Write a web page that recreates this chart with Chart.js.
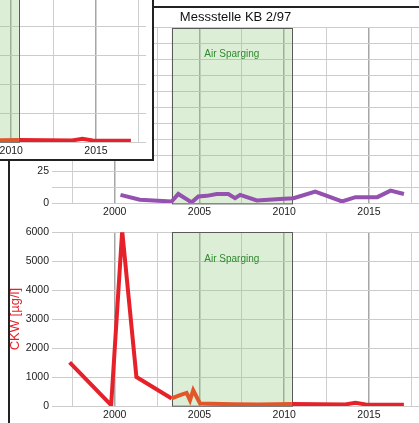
<!DOCTYPE html>
<html lang="de">
<head>
<meta charset="UTF-8">
<title>Messstelle KB 2/97</title>
<script src="https://cdn.jsdelivr.net/npm/chart.js"></script>
<style>
  body { margin: 0; width: 419px; height: 423px; overflow: hidden; background: #fff; position: relative; }
  .frame { position: absolute; left: 8px; top: 6px; width: 420px; height: 430px; border-left: 2px solid #222; border-top: 2px solid #222; }
  #kbChart { position: absolute; left: 0; top: 8px; }
  #ckwChart { position: absolute; left: 0; top: 223px; }
  .inset { position: absolute; left: 0; top: 0; width: 152px; height: 159px; background: #fff; border-right: 2px solid #222; border-bottom: 2px solid #222; overflow: hidden; }
  #insetChart { position: absolute; left: -273px; top: -41px; }
</style>
</head>
<body>
<div class="frame"></div>
<canvas id="kbChart" width="419" height="215"></canvas>
<canvas id="ckwChart" width="419" height="200"></canvas>
<div class="inset"><canvas id="insetChart" width="419" height="200"></canvas></div>

<script>
// x axis (years)
const xMin = 1996.3;
const xMax = 2017.95;
const xGridYears = [1997.5, 2000, 2002.5, 2005, 2007.5, 2010, 2012.5, 2015, 2017.5];

// Air Sparging period
const sparStart = 2003.36;
const sparEnd = 2010.45;
const sparLabel = 'Air Sparging';

// Messstelle KB 2/97 (purple)
const kbYears = [2000.34, 2001.48, 2003.36, 2003.75, 2004.54, 2004.93, 2005.43, 2006.02, 2006.70, 2007.10,
                 2007.40, 2008.38, 2009.76, 2010.55, 2011.83, 2013.41, 2014.20, 2015.49, 2016.27, 2017.06];
const kbValues = [6.4, 2.5, 1.2, 7.1, 0.5, 5.1, 5.6, 7.1, 7.1, 3.8,
                  6.4, 2.0, 3.1, 3.8, 8.9, 1.2, 4.6, 4.6, 9.7, 7.1];

// CKW [µg/l] (red / orange during air sparging)
const ckwYears = [1997.34, 1999.79, 2000.44, 2001.28, 2003.36, 2003.85, 2004.24, 2004.44, 2004.63, 2005.03,
                  2005.62, 2007.0, 2008.5, 2010.45, 2012.0, 2013.6, 2014.2, 2014.8, 2016.0, 2017.06];
const ckwValues = [1510, 30, 6050, 1000, 260, 375, 450, 200, 545, 90,
                   80, 60, 55, 70, 60, 55, 110, 55, 45, 40];

const red = '#e62129';
const orange = '#e2572a';
const purple = '#9451b0';
const tickFont = { family: 'Arial', size: 10.5 };

const spargingBox = {
  id: 'spargingBox',
  beforeDatasetsDraw(chart) {
    const { ctx, chartArea, scales: { x } } = chart;
    const left = x.getPixelForValue(sparStart);
    const right = x.getPixelForValue(sparEnd);
    ctx.save();
    ctx.fillStyle = 'rgba(140, 200, 120, 0.3)';
    ctx.fillRect(left, chartArea.top, right - left, chartArea.bottom - chartArea.top);
    ctx.strokeStyle = '#5a5a5a';
    ctx.lineWidth = 1;
    ctx.strokeRect(Math.round(left) + 0.5, Math.round(chartArea.top) + 0.5, Math.round(right - left), chartArea.bottom - chartArea.top);
    ctx.fillStyle = '#2f8a2f';
    ctx.font = '10px Arial';
    ctx.textAlign = 'center';
    ctx.textBaseline = 'middle';
    ctx.fillText(sparLabel, (left + right) / 2, chartArea.top + 27);
    ctx.restore();
  }
};

function xAxis(height) {
  return {
    type: 'linear',
    min: xMin,
    max: xMax,
    afterBuildTicks: axis => { axis.ticks = xGridYears.map(v => ({ value: v })); },
    afterFit: axis => { axis.height = height; },
    border: { display: false },
    grid: {
      drawTicks: false,
      color: c => c.tick && c.tick.value % 5 === 0 ? '#a6a6a6' : '#cfcfcf',
      lineWidth: c => c.tick && c.tick.value % 5 === 0 ? 1.5 : 1
    },
    ticks: {
      autoSkip: false, maxRotation: 0, padding: 3, color: '#222', font: tickFont,
      callback: v => v % 5 === 0 ? String(v) : ''
    }
  };
}

function yAxis(max, step, labelStep, title) {
  return {
    min: 0,
    max: max,
    afterFit: axis => { axis.width = 52; },
    border: { display: false },
    grid: { drawTicks: false, color: '#cccccc' },
    ticks: {
      stepSize: step, padding: 3, color: '#222', font: tickFont,
      callback: v => v % labelStep === 0 ? String(v) : ''
    },
    title: title
  };
}

new Chart(document.getElementById('kbChart'), {
  type: 'line',
  data: {
    datasets: [{
      data: kbYears.map((x, i) => ({ x: x, y: kbValues[i] })),
      borderColor: purple,
      borderWidth: 4,
      pointRadius: 0,
      clip: 0
    }]
  },
  options: {
    responsive: false,
    animation: false,
    layout: { padding: 0 },
    plugins: {
      legend: { display: false },
      tooltip: { enabled: false },
      title: {
        display: true, fullSize: false, text: 'Messstelle KB 2/97', color: '#111',
        font: { family: 'Arial', size: 13, weight: 'normal' },
        padding: { top: 2, bottom: 2 }
      }
    },
    scales: { x: xAxis(20), y: yAxis(137.5, 12.5, 25) }
  },
  plugins: [spargingBox]
});

function ckwConfig() {
  return {
    type: 'line',
    data: {
      datasets: [{
        data: ckwYears.map((x, i) => ({ x: x, y: ckwValues[i] })),
        borderColor: red,
        borderWidth: 4,
        pointRadius: 0,
        clip: 0,
        segment: {
          borderColor: s => (s.p0.parsed.x >= sparStart - 0.01 && s.p1.parsed.x <= sparEnd + 0.01) ? orange : red
        }
      }]
    },
    options: {
      responsive: false,
      animation: false,
      layout: { padding: { top: 8 } },
      plugins: { legend: { display: false }, tooltip: { enabled: false } },
      scales: {
        x: xAxis(17),
        y: yAxis(6000, 500, 1000, {
          display: true, text: 'CKW [µg/l]', color: red,
          font: { family: 'Arial', size: 13 }, padding: { top: 8, bottom: 0 }
        })
      }
    },
    plugins: [spargingBox]
  };
}

new Chart(document.getElementById('ckwChart'), ckwConfig());
new Chart(document.getElementById('insetChart'), ckwConfig());
</script>
</body>
</html>
